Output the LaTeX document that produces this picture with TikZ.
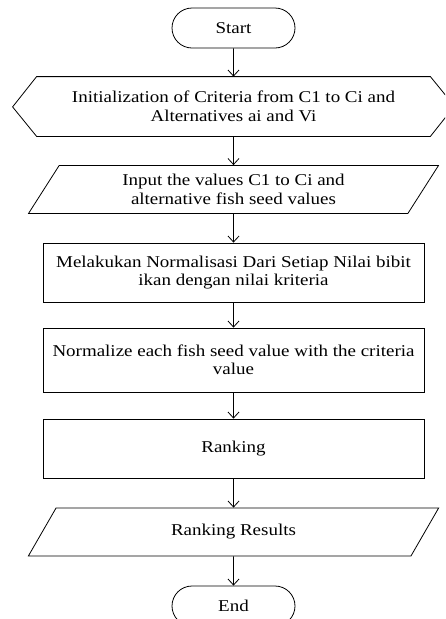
\documentclass[tikz,border=0pt]{standalone}
\usepackage{fontspec}
\setmainfont{Liberation Serif}[FakeStretch=1.15]
\usetikzlibrary{arrows.meta, shapes.misc, shapes.geometric}

\begin{document}
\begin{tikzpicture}[x=1pt, y=-1pt, line width=0.8pt,
    >={Straight Barb[length=6pt,width=11pt]},
    every node/.style={font=\fontsize{16.5}{18.5}\selectfont, align=center, inner sep=0pt},
    terminal/.style={draw, rounded rectangle, minimum width=123pt, minimum height=40pt},
    process/.style={draw, rectangle, minimum width=381pt, minimum height=59pt},
    prep/.style={rectangle, minimum width=393pt, minimum height=59pt},
    io/.style={draw, trapezium, trapezium left angle=57, trapezium right angle=123,
               trapezium stretches=true, minimum width=411pt, minimum height=48pt}]

    \clip (0,0) rectangle (445,619);

    % ================= Nodes =================
    \node[terminal] (start) at (233.5, 28) {Start};

    \node[prep] (init) at (233.5, 106.5) {Initialization of Criteria from C1 to Ci and\\Alternatives ai and Vi};
    \draw (init.north west) -- (init.north east) -- ++(24, 29.5) -- (init.south east)
          -- (init.south west) -- ++(-24, -29.5) -- cycle;

    \node[io] (input) at (233.5, 189.5) {Input the values C1 to Ci and\\alternative fish seed values};

    \node[process] (norm1) at (233.5, 272.5) {Melakukan Normalisasi Dari Setiap Nilai bibit\\ikan dengan nilai kriteria};
    \node[process, minimum height=64pt] (norm2) at (233.5, 360) {Normalize each fish seed value with the criteria\\value};
    \node[process] (rank) at (233.5, 448.5) {Ranking};

    \node[io] (result) at (233.5, 532) {Ranking Results};

    \node[terminal] (stop) at (233.5, 606) {End};

    % ================= Arrows =================
    \draw[->] (start) -- (init);
    \draw[->] (init) -- (input);
    \draw[->] (input) -- (norm1);
    \draw[->] (norm1) -- (norm2);
    \draw[->] (norm2) -- (rank);
    \draw[->] (rank) -- (result);
    \draw[->] (result) -- (stop);

\end{tikzpicture}
\end{document}
